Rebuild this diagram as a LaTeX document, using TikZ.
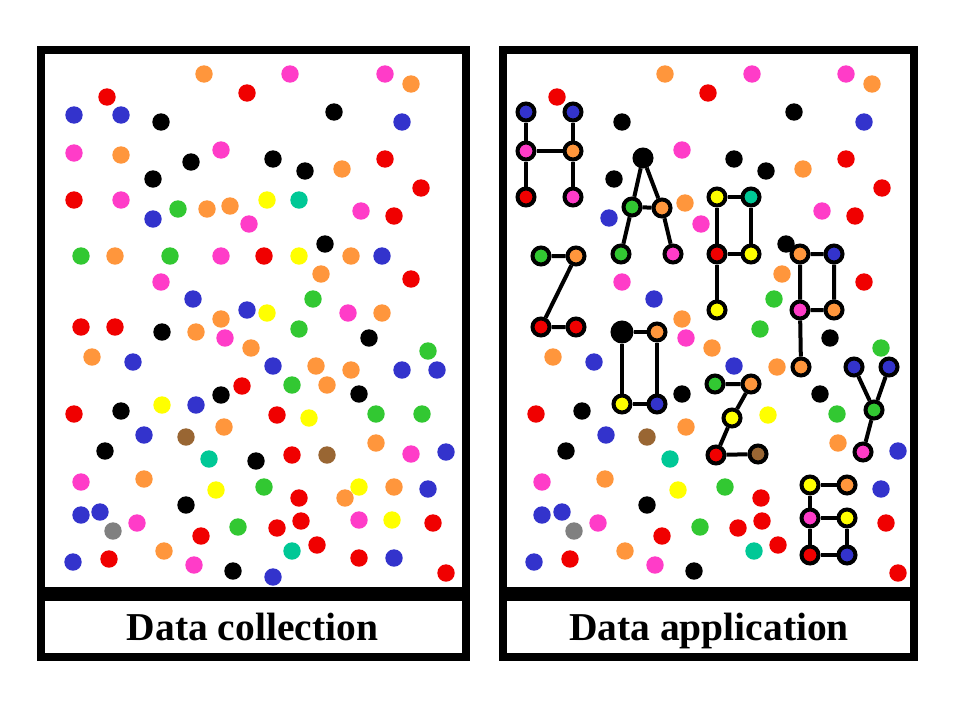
\documentclass[tikz,border=0pt]{standalone}
\usepackage{fontspec}
\setmainfont{Liberation Serif}
\usepackage{tikz}
\definecolor{rd}{RGB}{240,0,0}
\definecolor{bl}{RGB}{51,51,204}
\definecolor{pk}{RGB}{255,60,200}
\definecolor{or}{RGB}{255,150,60}
\definecolor{gr}{RGB}{50,200,50}
\definecolor{ye}{RGB}{255,255,0}
\definecolor{te}{RGB}{0,200,150}
\definecolor{br}{RGB}{153,102,51}
\definecolor{gy}{RGB}{128,128,128}
\definecolor{bk}{RGB}{0,0,0}
\tikzset{
  frame/.style={line width=8pt},
  spot/.style={fill=#1},
  ldot/.style={circle,draw=black,line width=4pt,inner sep=0pt,minimum size=17pt,fill=#1},
  link/.style={line width=4pt},
  caption/.style={font=\fontsize{39.5}{44}\selectfont\bfseries,anchor=base,inner sep=0pt}
}

\begin{document}
\begin{tikzpicture}[x=1pt,y=-1pt]
  \useasboundingbox[fill=white] (0,0) rectangle (960,720);
  % panels
  \draw[frame] (41,50) rectangle (466,591);
  \draw[frame] (41,597) rectangle (466,657);
  \draw[frame] (503,50) rectangle (914,591);
  \draw[frame] (503,597) rectangle (914,657);
  \node[caption] (lcap) at (252.5,640) {Data collection};
  \node[caption] (rcap) at (709,640) {Data application};
  % collected data
  \foreach \x/\y/\c in {204/74/or, 290/74/pk, 385/74/pk, 411/84/or, 107/97/rd, 247/93/rd,
      334/112/bk, 74/115/bl, 121/115/bl, 161/122/bk, 402/122/bl, 74/153/pk, 121/155/or,
      221/150/pk, 191/162/bk, 273/159/bk, 305/171/bk, 342/169/or, 385/159/rd, 153/179/bk,
      421/188/rd, 74/200/rd, 121/200/pk, 267/200/ye, 299/200/te, 153/219/bl, 178/209/gr,
      207/209/or, 230/206/or, 361/211/pk, 394/216/rd, 249/224/pk,
      81/256/gr, 115/256/or, 170/256/gr, 221/256/pk, 264/256/rd, 299/256/ye, 325/244/bk,
      351/256/or, 382/256/bl, 161/282/pk, 321/274/or, 411/279/rd, 193/299/bl, 313/299/gr,
      247/310/bl, 267/313/ye, 221/319/or, 348/313/pk, 382/313/or, 81/327/rd, 115/327/rd,
      162/332/bk, 196/332/or, 225/338/pk, 299/329/gr, 369/338/bk, 251/348/or, 92/357/or,
      133/362/bl, 273/366/bl, 316/366/or, 351/370/or, 428/351/gr, 402/370/bl, 437/370/bl,
      292/385/gr, 327/385/or, 242/386/rd, 221/395/bk, 359/394/bk,
      74/414/rd, 121/411/bk, 162/405/ye, 196/405/bl, 277/415/rd, 309/418/ye, 376/414/gr,
      422/414/gr, 144/435/bl, 186/437/br, 224/427/or, 105/451/bk, 209/459/te, 256/461/bk,
      292/455/rd, 327/455/br, 376/443/or, 411/454/pk, 446/452/bl, 81/482/pk, 144/479/or,
      216/490/ye, 264/487/gr, 299/498/rd, 345/498/or, 359/487/ye, 394/487/or, 428/489/bl,
      81/515/bl, 100/512/bl, 113/531/gy, 137/523/pk, 186/505/bk, 201/536/rd, 238/527/gr,
      277/528/rd, 301/521/rd, 359/520/pk, 392/520/ye, 433/523/rd, 73/562/bl, 109/559/rd,
      164/551/or, 194/565/pk, 233/571/bk, 273/577/bl, 292/551/te, 317/545/rd, 359/558/rd,
      394/558/bl, 446/573/rd}
    \fill[spot=\c] (\x,\y) circle[radius=8.7pt];
  % applied data
  \foreach \x/\y/\c in {665/74/or, 752/74/pk, 846/74/pk, 872/84/or, 557/97/rd, 708/93/rd,
      794/112/bk, 622/122/bk, 864/122/bl, 682/150/pk, 614/179/bk, 734/159/bk, 766/171/bk,
      803/169/or, 846/159/rd, 882/188/rd, 609/218/bl, 685/203/or, 822/211/pk, 855/216/rd,
      701/224/pk,
      622/282/pk, 654/299/bl, 786/244/bk, 782/274/or, 864/282/rd, 774/299/gr, 682/319/or,
      686/338/pk, 760/329/gr, 830/338/bk, 712/348/or, 553/357/or, 594/362/bl, 734/366/bl,
      777/367/or, 881/348/gr, 682/394/bk, 820/394/bk,
      536/414/rd, 582/411/bk, 768/415/ye, 837/414/gr, 606/435/bl, 647/437/br, 686/427/or,
      566/451/bk, 670/459/te, 838/443/or, 898/451/bl, 542/482/pk, 605/479/or, 678/490/ye,
      725/487/gr, 761/498/rd, 881/489/bl, 542/515/bl, 562/512/bl, 574/531/gy, 598/523/pk,
      647/505/bk, 662/536/rd, 700/527/gr, 738/528/rd, 762/521/rd, 886/523/rd, 534/562/bl,
      570/559/rd, 625/551/or, 655/565/pk, 694/571/bk, 754/551/te, 778/545/rd, 898/573/rd}
    \fill[spot=\c] (\x,\y) circle[radius=8.7pt];
  % H
  \node[ldot=bl] (h1) at (526,112) {};
  \node[ldot=bl] (h2) at (573,112) {};
  \node[ldot=pk] (h3) at (526,151) {};
  \node[ldot=or] (h4) at (573,151) {};
  \node[ldot=rd] (h5) at (526,197) {};
  \node[ldot=pk] (h6) at (573,197) {};
  \draw[link] (h1) -- (h3) -- (h5) (h2) -- (h4) -- (h6) (h3) -- (h4);
  % A
  \node[ldot=bk] (a1) at (643,158) {};
  \node[ldot=gr] (a2) at (632,207) {};
  \node[ldot=or] (a3) at (662,208) {};
  \node[ldot=gr] (a4) at (621,254) {};
  \node[ldot=pk] (a5) at (673,254) {};
  \draw[link] (a1) -- (a2) -- (a4) (a1) -- (a3) -- (a5) (a2) -- (a3);
  % P
  \node[ldot=ye] (p1) at (717,197) {};
  \node[ldot=te] (p2) at (751,197) {};
  \node[ldot=rd] (p3) at (717,254) {};
  \node[ldot=ye] (p4) at (751,254) {};
  \node[ldot=ye] (p5) at (717,310) {};
  \draw[link] (p1) -- (p2) -- (p4) -- (p3) -- (p1) (p3) -- (p5);
  % P
  \node[ldot=or] (q1) at (800,254) {};
  \node[ldot=bl] (q2) at (834,254) {};
  \node[ldot=pk] (q3) at (800,310) {};
  \node[ldot=or] (q4) at (834,310) {};
  \node[ldot=or] (q5) at (801,367) {};
  \draw[link] (q1) -- (q2) -- (q4) -- (q3) -- (q1) (q3) -- (q5);
  % Y
  \node[ldot=bl] (y1) at (854,367) {};
  \node[ldot=bl] (y2) at (889,367) {};
  \node[ldot=gr] (y3) at (874,410) {};
  \node[ldot=pk] (y4) at (863,452) {};
  \draw[link] (y1) -- (y3) -- (y2) (y3) -- (y4);
  % 2
  \node[ldot=gr] (z1) at (541,256) {};
  \node[ldot=or] (z2) at (576,256) {};
  \node[ldot=rd] (z3) at (541,327) {};
  \node[ldot=rd] (z4) at (576,327) {};
  \draw[link] (z1) -- (z2) -- (z3) -- (z4);
  % 0
  \node[ldot=bk,minimum size=19pt] (o1) at (622,332) {};
  \node[ldot=or] (o2) at (657,332) {};
  \node[ldot=ye] (o3) at (622,404) {};
  \node[ldot=bl] (o4) at (657,404) {};
  \draw[link] (o1) -- (o2) -- (o4) -- (o3) -- (o1);
  % 2
  \node[ldot=gr] (t1) at (715,384) {};
  \node[ldot=or] (t2) at (751,384) {};
  \node[ldot=ye] (t3) at (732,418) {};
  \node[ldot=rd] (t4) at (716,455) {};
  \node[ldot=br] (t5) at (758,454) {};
  \draw[link] (t1) -- (t2) -- (t3) -- (t4) -- (t5);
  % 6
  \node[ldot=ye] (s1) at (810,485) {};
  \node[ldot=or] (s2) at (847,485) {};
  \node[ldot=pk] (s3) at (810,518) {};
  \node[ldot=ye] (s4) at (847,518) {};
  \node[ldot=rd] (s5) at (810,555) {};
  \node[ldot=bl] (s6) at (847,555) {};
  \draw[link] (s2) -- (s1) -- (s3) -- (s5) -- (s6) -- (s4) -- (s3);
\end{tikzpicture}
\end{document}
